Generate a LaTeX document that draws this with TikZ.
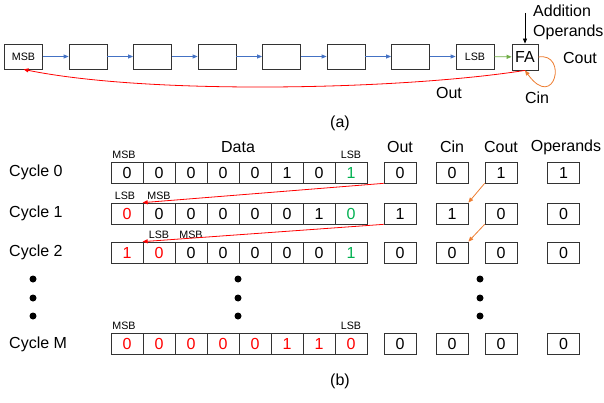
\documentclass[tikz,border=0pt]{standalone}
\usepackage{fontspec}
\setmainfont{Liberation Sans}
\usetikzlibrary{arrows.meta,positioning}

\definecolor{arrowblue}{RGB}{68,114,196}
\definecolor{arrowgreen}{RGB}{112,173,71}
\definecolor{arroworange}{RGB}{237,125,49}
\definecolor{bitgreen}{RGB}{0,176,80}
\definecolor{bitred}{RGB}{255,0,0}
\colorlet{bitblack}{black}

\begin{document}
\begin{tikzpicture}[x=1pt, y=-1pt,
    every node/.style={font=\fontsize{16}{20}\selectfont},
    reg/.style={draw=black!80, line width=0.8pt, minimum width=38pt, minimum height=25pt, inner sep=0pt, font=\fontsize{10.7}{12}\selectfont},
    fa/.style={draw=black!80, line width=0.8pt, minimum width=26pt, minimum height=26pt, inner sep=0pt},
    bitcell/.style={draw=black!80, line width=0.7pt, minimum width=32pt, minimum height=21pt, inner sep=0pt},
    tag/.style={font=\fontsize{10.7}{12}\selectfont, inner sep=0pt},
    lbl/.style={inner sep=0pt},
    tip/.style={-{Triangle[length=5pt,width=4pt]}},
    shiftarrow/.style={tip, arrowblue, line width=0.8pt},
    outarrow/.style={tip, bitred, line width=0.8pt},
    carry/.style={tip, arroworange, line width=0.8pt}]
    \useasboundingbox (0,0) rectangle (604,403);

    % (a) shift register and full adder
    \foreach \i/\t in {0/MSB,1/,2/,3/,4/,5/,6/,7/LSB}
        \node[reg] (b\i) at ({23.5+64.5*\i},56.5) {\t};
    \node[fa] (fa) at (525,57) {FA};
    \foreach \i [remember=\i as \j (initially 0)] in {1,...,7}
        \draw[shiftarrow] (b\j) -- (b\i);
    \draw[tip, arrowgreen, line width=0.8pt] (b7) -- (fa);
    \coordinate (opin) at (525,13);
    \draw[tip, line width=0.8pt] (opin) -- (fa.north);
    \node[lbl, anchor=west, align=left] (opslbl) at (533,22) {Addition\\Operands};
    \draw[outarrow] (fa.south) .. controls (400,90) and (150,95) .. (b0.south);
    \draw[carry] (fa.east) .. controls (568,52) and (555,112) .. (fa.south);
    \node[lbl] (coutlbl) at (580,58) {Cout};
    \node[lbl] (outlbl) at (449,93) {Out};
    \node[lbl] (cinlbl) at (537,98) {Cin};
    \node[lbl] (capa) at (340,123) {(a)};

    % (b) cycle table
    \node[lbl] (hdata) at (238,147) {Data};
    \foreach \n/\x/\h in {out/400/Out, cin/452/Cin, cout/501/Cout, ops/566/Operands}
        \node[lbl] (h\n) at (\x,147) {\h};
    \foreach \r/\y in {0/172.5, 1/213.5, 2/252.5, M/344}
        \node[lbl, anchor=west] (cyc\r) at (9,\y) {Cycle \r};

    \foreach \v/\c [count=\i from 0] in {0/bitblack,0/bitblack,0/bitblack,0/bitblack,0/bitblack,1/bitblack,0/bitblack,1/bitgreen}
        \node[bitcell, text=\c] (d0-\i) at ({127+32*\i},172.5) {\v};
    \foreach \v/\c [count=\i from 0] in {0/bitred,0/bitblack,0/bitblack,0/bitblack,0/bitblack,0/bitblack,1/bitblack,0/bitgreen}
        \node[bitcell, text=\c] (d1-\i) at ({127+32*\i},213.5) {\v};
    \foreach \v/\c [count=\i from 0] in {1/bitred,0/bitred,0/bitblack,0/bitblack,0/bitblack,0/bitblack,0/bitblack,1/bitgreen}
        \node[bitcell, text=\c] (d2-\i) at ({127+32*\i},252.5) {\v};
    \foreach \v [count=\i from 0] in {0,0,0,0,0,1,1,0}
        \node[bitcell, text=bitred] (dM-\i) at ({127+32*\i},344) {\v};

    \foreach \r/\y/\a/\b/\c/\d in {0/172.5/0/0/1/1, 1/213.5/1/1/0/0, 2/252.5/0/0/0/0, M/344/0/0/0/0} {
        \node[bitcell] (out\r) at (400,\y) {\a};
        \node[bitcell] (cin\r) at (452,\y) {\b};
        \node[bitcell] (cout\r) at (501,\y) {\c};
        \node[bitcell] (ops\r) at (563.5,\y) {\d};
    }

    \node[tag, above=3pt of d0-0, xshift=-3pt] (m0) {MSB};
    \node[tag, above=3pt of d0-7] (l0) {LSB};
    \node[tag, above=3pt of d1-0, xshift=-2pt] (l1) {LSB};
    \node[tag, above=3pt of d1-1] (m1) {MSB};
    \node[tag, above=3pt of d2-1] (l2) {LSB};
    \node[tag, above=3pt of d2-2] (m2) {MSB};
    \node[tag, above=3pt of dM-0, xshift=-3pt] (mM) {MSB};
    \node[tag, above=3pt of dM-7] (lM) {LSB};

    \draw[outarrow] (out0.south west) -- (d1-1.north west);
    \draw[outarrow] (out1.south west) -- (d2-1.north west);
    \draw[carry] (cout0.south west) -- (cin1.north east);
    \draw[carry] (cout1.south west) -- (cin2.north east);

    \foreach \x in {33,238,480}
        \foreach \y in {279,298,316}
            \fill (\x,\y) circle (3.5pt);

    \node[lbl] (capb) at (340,381) {(b)};
\end{tikzpicture}
\end{document}
